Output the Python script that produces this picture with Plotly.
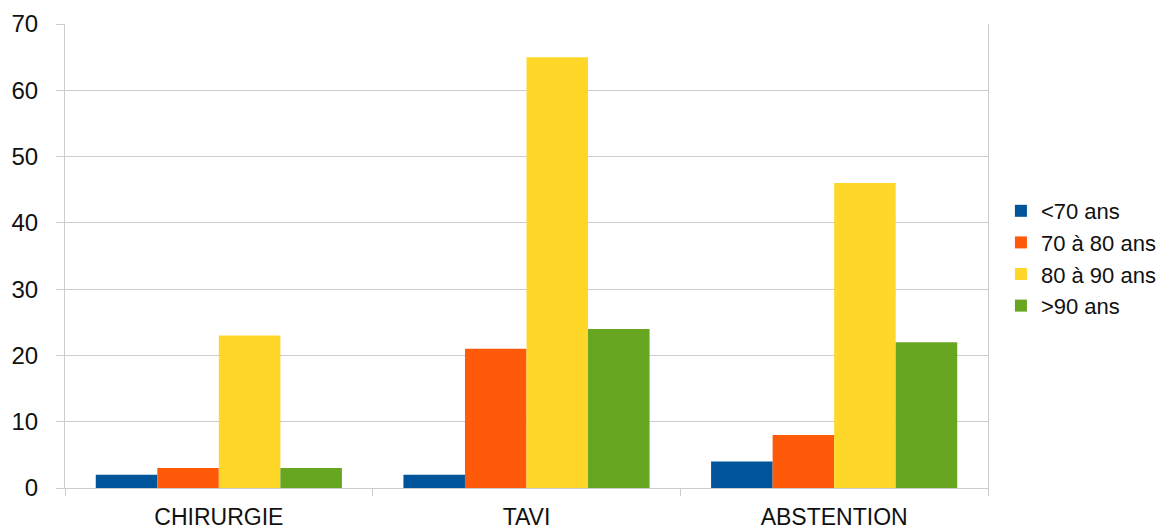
import plotly.graph_objects as go

categories = ["CHIRURGIE", "TAVI", "ABSTENTION"]
series_names = ["<70 ans", "70 à 80 ans", "80 à 90 ans", ">90 ans"]
s_lt70 = [2, 2, 4]
s_70_80 = [3, 21, 8]
s_80_90 = [23, 65, 46]
s_gt90 = [3, 24, 22]
y_ticks = [0, 10, 20, 30, 40, 50, 60, 70]

colors = ["#00559a", "#ff5a0a", "#ffd728", "#67a620"]
values = [s_lt70, s_70_80, s_80_90, s_gt90]

fig = go.Figure()
for name, vals, col in zip(series_names, values, colors):
    fig.add_trace(go.Bar(x=categories, y=vals, name=name,
                         marker=dict(color=col, line=dict(width=0))))

font_family = "Liberation Sans, Arial, sans-serif"
fig.update_layout(
    width=1152, height=522,
    margin=dict(l=57, r=172, t=16, b=42, autoexpand=False),
    paper_bgcolor="white", plot_bgcolor="white",
    barmode="group", bargap=0.2, bargroupgap=0,
    font=dict(family=font_family, color="#111111"),
    legend=dict(x=1.014, y=0.4946, xanchor="left", yanchor="middle",
                font=dict(size=22, family=font_family, color="#111111"),
                itemclick=False, tracegroupgap=0),
    showlegend=True,
)
fig.update_xaxes(
    automargin=False,
    showline=True, linecolor="#cccccc", linewidth=1,
    ticks="outside", tickson="boundaries", ticklen=7, tickcolor="#cccccc",
    ticklabelstandoff=8,
    tickfont=dict(size=23, family=font_family, color="#111111"),
    showgrid=False, zeroline=False,
)
fig.update_yaxes(
    automargin=False,
    range=[0, 70], tickvals=y_ticks,
    showline=True, linecolor="#cccccc", linewidth=1, mirror=True,
    ticks="outside", ticklen=8, tickcolor="#cccccc",
    ticklabelstandoff=13,
    showgrid=True, gridcolor="#cccccc", gridwidth=1,
    zeroline=False,
    tickfont=dict(size=24, family=font_family, color="#111111"),
)
fig.write_html("out.html")
